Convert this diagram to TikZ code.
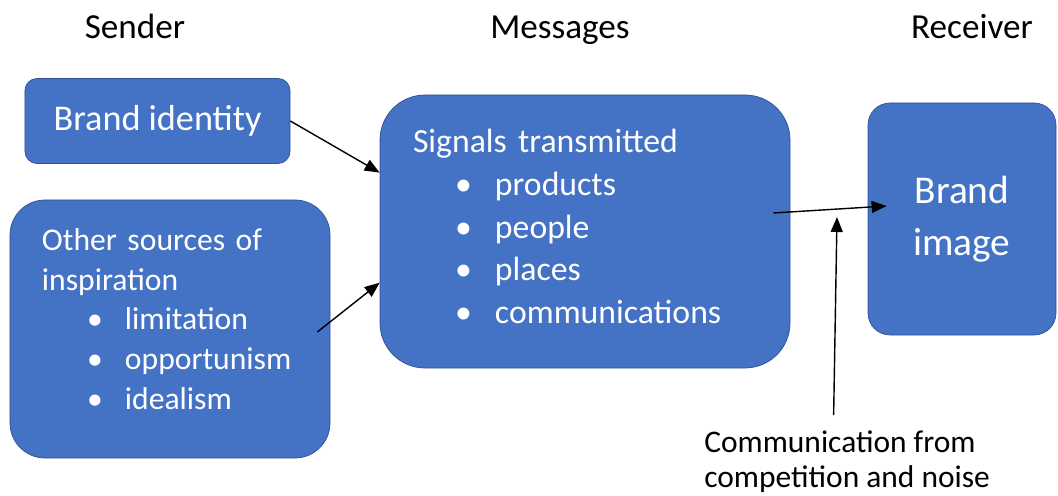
\documentclass[tikz,border=0pt]{standalone}
\usepackage{fontspec}
\setmainfont{Carlito}
\usetikzlibrary{arrows.meta}
\definecolor{boxblue}{HTML}{4472C4}
\definecolor{boxline}{HTML}{2F528F}
% bullet line: indent, bullet box, text
\newcommand{\bline}[3]{\hspace*{#1}\makebox[#2][l]{\textbullet}#3}
% block of left aligned lines with extra room below
\newcommand{\liftlines}[2]{\raisebox{0pt}[\height][\dimexpr\depth+#1\relax]{\begin{tabular}{@{}l@{}}#2\end{tabular}}}
\begin{document}
\begin{tikzpicture}[x=0.2mm,y=-0.2mm,
    blob/.style={fill=boxblue,draw=boxline,thin,text=white,align=left},
    arr/.style={-{Triangle[length=3mm,width=2.4mm]},line width=0.8pt},
    heading/.style={anchor=base,font=\fontsize{20}{24}\selectfont}]
    \useasboundingbox (0,0) rectangle (1058,496);
    % column headings
    \node[heading] (sender) at (135,39) {Sender};
    \node[heading] (messages) at (560,39) {Messages};
    \node[heading] (receiver) at (972,39) {Receiver};
    % boxes
    \node[blob,rounded corners=2.4mm,minimum width=53mm,minimum height=17mm,
        font=\fontsize{20.6}{24}\selectfont] (identity) at (157.5,121) {Brand identity};
    \node[blob,rounded corners=7mm,inner xsep=6.4mm,text width=51.2mm,minimum height=51.6mm,
        font=\fontsize{18}{22.7}\selectfont] (others) at (170,329)
        {\liftlines{2.8mm}{Other sources of\\ inspiration\\
         \bline{9mm}{7.6mm}{limitation}\\
         \bline{9mm}{7.6mm}{opportunism}\\
         \bline{9mm}{7.6mm}{idealism}}};
    \node[blob,rounded corners=9mm,inner xsep=6.6mm,text width=68.8mm,minimum height=54.6mm,
        font=\fontsize{19.2}{24.4}\selectfont] (signals) at (585,231.5)
        {\liftlines{0.8mm}{Signals transmitted\\
         \bline{8.4mm}{8mm}{products}\\
         \bline{8.4mm}{8mm}{people}\\
         \bline{8.4mm}{8mm}{places}\\
         \bline{8.4mm}{8mm}{communications}}};
    \node[blob,align=center,rounded corners=4.4mm,minimum width=37.6mm,minimum height=46.4mm,
        font=\fontsize{22.4}{29.5}\selectfont] (image) at (962,219) {Brand\\ image};
    \node[anchor=north west,inner sep=0pt,align=left,
        font=\fontsize{17.9}{20}\selectfont] (noise) at (704,430)
        {Communication from\\ competition and noise};
    \coordinate (meet) at (837,217);
    % arrows
    \draw[arr] (identity.east) -- (signals.164);
    \draw[arr] ([xshift=-2.6mm,yshift=-0.6mm]others.east) -- (signals.194);
    \draw[arr] ([xshift=-3.4mm,yshift=3.7mm]signals.east) -- ([xshift=3.8mm,yshift=2.6mm]image.west);
    \draw[arr] ([xshift=-2.7mm,yshift=3mm]noise.north) -- (meet);
\end{tikzpicture}
\end{document}
